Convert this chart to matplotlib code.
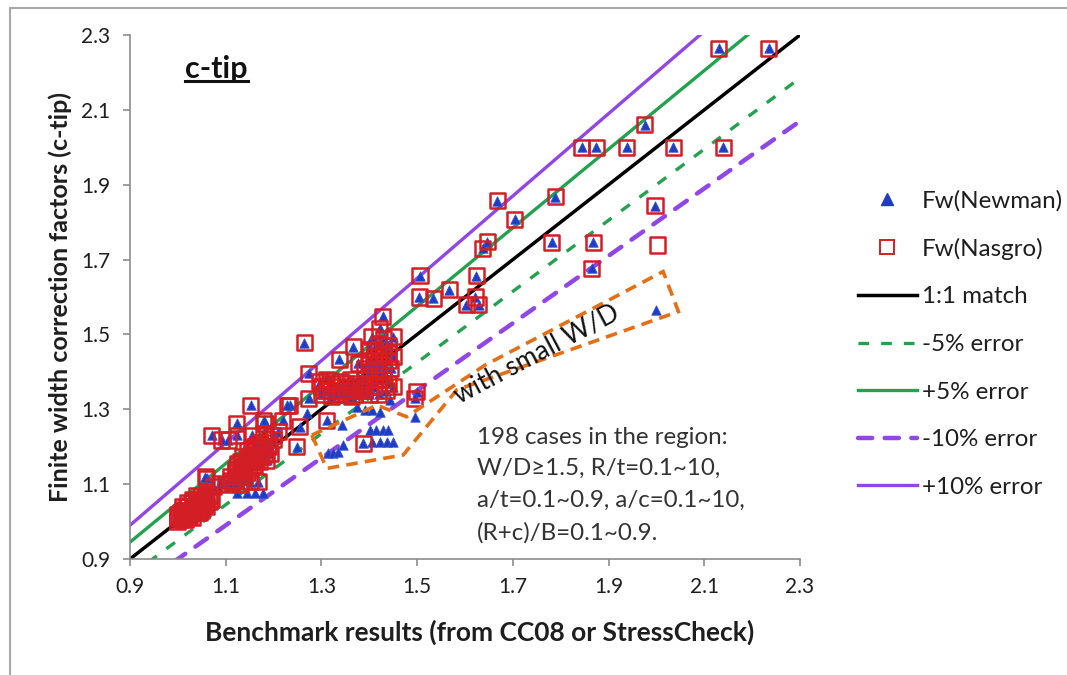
import matplotlib
matplotlib.use('Agg')
import matplotlib.pyplot as plt
from matplotlib.lines import Line2D
from matplotlib.patches import Polygon, Rectangle
import numpy as np

plt.rcParams['font.family'] = ['Lato', 'DejaVu Sans']

# ---------------- data ----------------
# cases where Newman and Nasgro coincide (square with triangle inside)
shared_x = [2.13, 2.235, 1.976, 1.844, 1.874, 1.938, 2.035, 2.14, 1.667, 1.789, 1.704, 1.997,
            1.647, 1.637, 1.781, 1.868, 1.865, 1.506, 1.624, 1.567, 1.504, 1.534, 1.603, 1.629, 1.621,
            1.264, 1.428, 1.422, 1.405, 1.45, 1.367, 1.337, 1.377, 1.398, 1.273, 1.297, 1.318, 1.339,
            1.339, 1.321, 1.363, 1.384, 1.273, 1.234, 1.311, 1.255, 1.248, 1.499, 1.495, 1.387,
            1.40, 1.41, 1.42, 1.43, 1.42, 1.44, 1.40, 1.41, 1.43, 1.445, 1.39, 1.41, 1.42, 1.44, 1.45,
            1.40, 1.42, 1.435, 1.38, 1.36, 1.35, 1.33, 1.32, 1.30, 1.31, 1.44, 1.45, 1.43,
            1.30, 1.31, 1.32, 1.33, 1.34, 1.35, 1.36, 1.37, 1.38, 1.39, 1.36, 1.37, 1.39, 1.40, 1.41,
            1.42, 1.43, 1.42, 1.41, 1.43, 1.44, 1.40, 1.39, 1.41, 1.43,
            1.071, 1.092, 1.105, 1.124, 1.154, 1.179, 1.20, 1.182, 1.123, 1.152, 1.179, 1.229, 1.219,
            1.06, 1.088, 1.074, 1.151, 1.168, 1.193, 1.186,
            1.11, 1.12, 1.13, 1.14, 1.12, 1.13, 1.15, 1.14, 1.16, 1.15, 1.17, 1.16, 1.17, 1.18, 1.18,
            1.10, 1.13, 1.19, 1.17, 1.16,
            1.115, 1.125, 1.135, 1.145, 1.155, 1.125, 1.135, 1.145, 1.155, 1.165, 1.145, 1.155, 1.165,
            1.12, 1.13, 1.14, 1.15, 1.16, 1.11, 1.175, 1.19, 1.20, 1.21,
            1.00, 1.00, 1.01, 1.01, 1.02, 1.02, 1.03, 1.03, 1.04, 1.04, 1.05, 1.05, 1.06, 1.03, 1.00,
            1.045, 1.055, 1.065, 1.057,
            1.005, 1.015, 1.025, 1.035, 1.045, 1.055, 1.005, 1.015, 1.025, 1.035, 1.045, 1.055, 1.065,
            1.02, 1.03, 1.04, 1.01, 1.06, 1.07, 1.05]
shared_y = [2.265, 2.265, 2.06, 2.00, 2.00, 2.00, 2.00, 2.00, 1.857, 1.868, 1.808, 1.844,
            1.748, 1.73, 1.746, 1.746, 1.677, 1.657, 1.657, 1.62, 1.60, 1.597, 1.579, 1.579, 1.60,
            1.478, 1.549, 1.516, 1.494, 1.494, 1.467, 1.434, 1.423, 1.427, 1.396, 1.374, 1.378, 1.374,
            1.343, 1.334, 1.334, 1.352, 1.329, 1.311, 1.271, 1.253, 1.20, 1.347, 1.33, 1.209,
            1.46, 1.44, 1.47, 1.45, 1.42, 1.43, 1.40, 1.39, 1.40, 1.41, 1.37, 1.36, 1.38, 1.37, 1.36,
            1.34, 1.34, 1.35, 1.35, 1.36, 1.37, 1.36, 1.35, 1.36, 1.38, 1.47, 1.44, 1.49,
            1.34, 1.35, 1.37, 1.34, 1.35, 1.34, 1.35, 1.36, 1.37, 1.38, 1.38, 1.34, 1.35, 1.36, 1.41,
            1.40, 1.42, 1.44, 1.46, 1.47, 1.45, 1.43, 1.41, 1.38, 1.38,
            1.231, 1.218, 1.218, 1.231, 1.231, 1.236, 1.231, 1.263, 1.263, 1.311, 1.271, 1.311, 1.271,
            1.116, 1.102, 1.093, 1.107, 1.107, 1.182, 1.164,
            1.12, 1.14, 1.13, 1.15, 1.11, 1.16, 1.17, 1.12, 1.18, 1.14, 1.19, 1.15, 1.16, 1.20, 1.18,
            1.10, 1.10, 1.21, 1.21, 1.20,
            1.105, 1.12, 1.145, 1.16, 1.175, 1.155, 1.175, 1.19, 1.195, 1.20, 1.13, 1.15, 1.165,
            1.13, 1.12, 1.14, 1.16, 1.17, 1.11, 1.175, 1.20, 1.22, 1.24,
            1.00, 1.02, 1.01, 1.03, 1.02, 1.04, 1.03, 1.05, 1.04, 1.06, 1.05, 1.03, 1.06, 1.01, 1.01,
            1.025, 1.065, 1.07, 1.12,
            1.005, 1.02, 1.03, 1.04, 1.05, 1.055, 1.025, 1.005, 1.015, 1.025, 1.035, 1.045, 1.055,
            1.05, 1.06, 1.07, 1.04, 1.04, 1.06, 1.07]

# Newman-only points (mainly the small W/D cases)
newman_only_x = [1.314, 1.325, 1.335, 1.346, 1.342, 1.401, 1.415, 1.429, 1.44, 1.405, 1.422,
                 1.436, 1.45, 1.391, 1.405, 1.422, 1.269, 1.495, 2.0, 1.374, 1.443,
                 1.123, 1.144, 1.161, 1.177]
newman_only_y = [1.182, 1.184, 1.187, 1.205, 1.258, 1.245, 1.245, 1.245, 1.245, 1.213, 1.213,
                 1.213, 1.213, 1.298, 1.298, 1.294, 1.289, 1.28, 1.565, 1.307, 1.325,
                 1.077, 1.077, 1.077, 1.077]

# Nasgro-only point
nasgro_only_x = [2.002]
nasgro_only_y = [1.739]

# reference lines
error_factors = [1.00, 0.95, 1.05, 0.90, 1.10]
error_labels = ['1:1 match', '-5% error', '+5% error', '-10% error', '+10% error']

ticks = [0.9, 1.1, 1.3, 1.5, 1.7, 1.9, 2.1, 2.3]
tick_labels = ['0.9', '1.1', '1.3', '1.5', '1.7', '1.9', '2.1', '2.3']

# outline of the "with small W/D" highlight (data coordinates)
region_x = [1.280, 1.311, 1.471, 1.583, 2.046, 2.014, 1.642, 1.478, 1.416]
region_y = [1.231, 1.142, 1.178, 1.352, 1.561, 1.668, 1.418, 1.280, 1.311]

# ---------------- styling ----------------
BLACK = '#000000'
GREEN = '#22A24F'
PURPLE = '#9146E8'
BLUE = '#1F3CC4'
RED = '#D41E26'
ORANGE = '#E46F17'
GRAY = '#8C8C8C'
TXT = '#1E1E1E'

fig = plt.figure(figsize=(10.67, 6.75), dpi=100)
fig.patches.append(Rectangle((10 / 1067, -0.01), 1.05, (675 - 8) / 675 + 0.01, transform=fig.transFigure,
                             fill=False, edgecolor='#A8A8A8', lw=1.5))

ax = fig.add_axes([130 / 1067, (675 - 559) / 675, 670 / 1067, 524 / 675])
ax.set_xlim(0.9, 2.3)
ax.set_ylim(0.9, 2.3)

line_x = np.array([0.9, 2.3])
styles = [
    dict(color=BLACK, lw=2.5, ls='-'),
    dict(color=GREEN, lw=2.4, dashes=(3.2, 3.6)),
    dict(color=GREEN, lw=2.4, ls='-'),
    dict(color=PURPLE, lw=3.2, dashes=(3.2, 2.8), dash_capstyle='round'),
    dict(color=PURPLE, lw=2.4, ls='-'),
]
handles_lines = []
for f, lab, st in zip(error_factors, error_labels, styles):
    h, = ax.plot(line_x, f * line_x, label=lab, zorder=2, **st)
    handles_lines.append(h)

new_x = shared_x + newman_only_x
new_y = shared_y + newman_only_y
nas_x = shared_x + nasgro_only_x
nas_y = shared_y + nasgro_only_y

ax.scatter(new_x, new_y, marker='^', s=46, color=BLUE, edgecolor='#3555D0', linewidth=0.6, zorder=3)
ax.scatter(nas_x, nas_y, marker='s', s=118, facecolor='none', edgecolor=RED, linewidth=1.8, zorder=4)

# spines / ticks
for s in ['top', 'right']:
    ax.spines[s].set_visible(False)
for s in ['left', 'bottom']:
    ax.spines[s].set_color(GRAY)
    ax.spines[s].set_linewidth(1.2)
ax.set_xticks(ticks)
ax.set_xticklabels(tick_labels)
ax.set_yticks(ticks)
ax.set_yticklabels(tick_labels)
ax.tick_params(direction='out', length=5, width=1.2, color=GRAY, labelsize=15,
               labelcolor=TXT)
ax.tick_params(axis='y', pad=9)
ax.tick_params(axis='x', pad=8)

ax.set_xlabel('Benchmark results (from CC08 or StressCheck)', fontsize=19, fontweight='bold',
              color=TXT, labelpad=16, x=0.522)
ax.set_ylabel('Finite width correction factors (c-tip)', fontsize=18, fontweight='bold',
              color=TXT, labelpad=7)

# title-like label
ax.text(0.082, 0.935, 'c-tip', transform=ax.transAxes, fontsize=22, fontweight='bold',
        ha='left', va='center', color='#111111')
ax.add_line(Line2D([0.082, 0.176], [0.913, 0.913], transform=ax.transAxes, color='#111111', lw=2.2))

# highlighted region
poly = Polygon(list(zip(region_x, region_y)), closed=True, fill=False, edgecolor=ORANGE,
               lw=2.6, linestyle=(0, (3.2, 2.0)), zorder=5)
ax.add_patch(poly)
ax.text(1.75, 1.447, 'with small W/D', rotation=28, rotation_mode='anchor', ha='center', va='center',
        fontsize=19, color='#111111', zorder=6)

ax.text(1.625, 1.254, '198 cases in the region:\nW/D\u22651.5, R/t=0.1~10,\na/t=0.1~0.9, a/c=0.1~10,\n(R+c)/B=0.1~0.9.',
        ha='left', va='top', fontsize=17.4, color='#333333', linespacing=1.63)

# legend
h_new = Line2D([], [], marker='^', ls='none', color=BLUE, markersize=8)
h_nas = Line2D([], [], marker='s', ls='none', markerfacecolor='none', markeredgecolor=RED,
               markersize=10, markeredgewidth=1.4)
handles = [h_new, h_nas] + handles_lines
labels = ['Fw(Newman)', 'Fw(Nasgro)'] + error_labels
fig.legend(handles, labels, loc='upper left', bbox_to_anchor=(848 / 1067, (675 - 180) / 675),
           frameon=False, fontsize=17.4, handlelength=2.45, handletextpad=0.2, labelspacing=1.1,
           borderaxespad=0, labelcolor=TXT)

fig.savefig('out.png', dpi=100)
